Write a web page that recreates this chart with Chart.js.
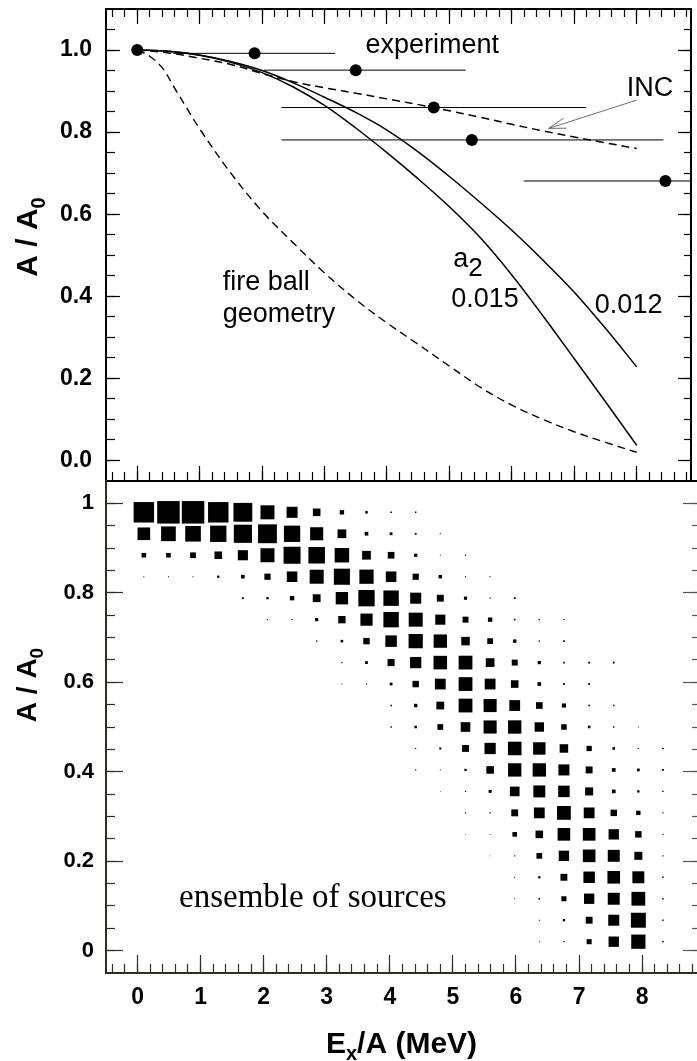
<!DOCTYPE html>
<html>
<head>
<meta charset="utf-8">
<title>A/A0 vs Ex/A</title>
<script src="https://cdn.jsdelivr.net/npm/chart.js@4.4.1/dist/chart.umd.min.js"></script>
<style>
  html, body { margin: 0; padding: 0; background: #fff; }
  #wrap { position: relative; width: 697px; height: 1061px; overflow: hidden; background: #fff; }
  canvas { position: absolute; left: 0; }
  #topChart { top: 0; }
  #bottomChart { top: 475px; }
</style>
</head>
<body>
<div id="wrap">
  <canvas id="topChart" width="697" height="495"></canvas>
  <canvas id="bottomChart" width="697" height="586"></canvas>
</div>
<script>
// ================= DATA =================
// ---- top panel: model curves ----
const curveX = [0, 0.5, 1, 1.5, 2, 2.5, 3, 3.5, 4, 4.5, 5, 5.5, 6, 6.5, 7, 7.5, 8];
const a012Y  = [1.0, 0.997, 0.988, 0.972, 0.950, 0.920, 0.885, 0.848, 0.805, 0.752, 0.692, 0.628, 0.561, 0.488, 0.410, 0.322, 0.228];
const a015Y  = [1.0, 0.997, 0.987, 0.970, 0.945, 0.910, 0.865, 0.810, 0.750, 0.686, 0.618, 0.542, 0.452, 0.352, 0.248, 0.143, 0.037];
const incY   = [1.0, 0.993, 0.980, 0.965, 0.943, 0.923, 0.908, 0.895, 0.881, 0.867, 0.852, 0.836, 0.819, 0.803, 0.788, 0.774, 0.760];
const fireX  = [0, 0.2, 0.4, 0.6, 0.8, 1, 1.5, 2, 2.5, 3, 3.5, 4, 4.5, 5, 5.5, 6, 6.5, 7, 7.5, 8];
const fireY  = [1.0, 0.985, 0.957, 0.907, 0.857, 0.808, 0.700, 0.607, 0.530, 0.457, 0.392, 0.335, 0.283, 0.230, 0.178, 0.135, 0.100, 0.070, 0.044, 0.020];
// ---- top panel: experiment ----
const expX     = [0, 1.88, 3.50, 4.75, 5.36, 8.46];
const expY     = [1.0, 0.992, 0.951, 0.860, 0.781, 0.681];
const expXLow  = [null, 0.58, 2.03, 2.31, 2.31, 6.19];
const expXHigh = [null, 3.17, 5.26, 7.19, 8.43, 10.7];

// ---- bottom panel: ensemble of sources (relative box size per cell) ----
const boxCols = [0.10, 0.49, 0.88, 1.28, 1.67, 2.06, 2.45, 2.84, 3.24, 3.63, 4.02, 4.41, 4.80, 5.20, 5.59, 5.98, 6.37, 6.76, 7.16, 7.55, 7.94, 8.33];
const boxRows = [0.980, 0.932, 0.884, 0.836, 0.788, 0.740, 0.692, 0.644, 0.596, 0.548, 0.500, 0.452, 0.404, 0.356, 0.308, 0.260, 0.212, 0.164, 0.116, 0.068, 0.020];
const boxSize = [
  [.89,.98,.98,.89,.82,.61,.48,.33,.19,.11,.07,.06,0,0,0,0,0,0,0,0,0,0],
  [.55,.64,.68,.71,.79,.82,.71,.57,.38,.16,.12,.08,.05,0,0,0,0,0,0,0,0,0],
  [.20,.20,.25,.33,.44,.61,.74,.72,.63,.38,.29,.14,.04,.05,0,0,0,0,0,0,0,0],
  [.04,.04,.04,.10,.16,.27,.46,.61,.70,.62,.46,.27,.15,.05,.05,0,0,0,0,0,0,0],
  [0,0,0,0,.08,.10,.19,.34,.54,.71,.67,.48,.30,.14,.05,.08,0,0,0,0,0,0],
  [0,0,0,0,0,.05,.05,.14,.32,.53,.67,.61,.44,.26,.19,.07,.05,.05,0,0,0,0],
  [0,0,0,0,0,0,0,.06,.11,.28,.50,.62,.58,.37,.25,.15,.06,.07,0,0,0,0],
  [0,0,0,0,0,0,0,0,.05,.12,.31,.49,.59,.60,.38,.26,.14,.07,.08,.08,0,0],
  [0,0,0,0,0,0,0,0,.04,.05,.12,.28,.47,.60,.47,.33,.16,.08,.08,0,0,0],
  [0,0,0,0,0,0,0,0,0,0,.07,.15,.34,.60,.57,.47,.29,.18,.07,.06,0,0],
  [0,0,0,0,0,0,0,0,0,0,.06,.11,.25,.42,.57,.58,.41,.24,.11,.06,.04,0],
  [0,0,0,0,0,0,0,0,0,0,0,.05,.09,.30,.49,.59,.54,.37,.23,.11,.05,.07],
  [0,0,0,0,0,0,0,0,0,0,0,.05,.04,.10,.33,.58,.58,.48,.30,.16,.12,.08],
  [0,0,0,0,0,0,0,0,0,0,0,0,.03,.05,.13,.42,.52,.50,.35,.16,.10,.06],
  [0,0,0,0,0,0,0,0,0,0,0,0,0,.05,.06,.30,.47,.60,.47,.28,.19,.05],
  [0,0,0,0,0,0,0,0,0,0,0,0,0,.03,.04,.20,.33,.55,.55,.45,.28,.05],
  [0,0,0,0,0,0,0,0,0,0,0,0,0,0,.03,.05,.25,.45,.55,.52,.35,.05],
  [0,0,0,0,0,0,0,0,0,0,0,0,0,0,0,.05,.10,.30,.50,.55,.52,.06],
  [0,0,0,0,0,0,0,0,0,0,0,0,0,0,0,.04,.07,.22,.45,.52,.60,.06],
  [0,0,0,0,0,0,0,0,0,0,0,0,0,0,0,0,.05,.10,.30,.48,.65,.06],
  [0,0,0,0,0,0,0,0,0,0,0,0,0,0,0,0,.04,.05,.22,.45,.62,.06]
];

// ---- ticks ----
const xMajorTicks  = [0, 1, 2, 3, 4, 5, 6, 7, 8];
const xMajorLabels = ['0', '1', '2', '3', '4', '5', '6', '7', '8'];
const topYMajor    = [0, 0.2, 0.4, 0.6, 0.8, 1.0];
const topYLabels   = ['0.0', '0.2', '0.4', '0.6', '0.8', '1.0'];
const botYMajor    = [0, 0.2, 0.4, 0.6, 0.8, 1.0];
const botYLabels   = ['0', '0.2', '0.4', '0.6', '0.8', '1'];
const xMinorTicks = []; for (let k = -2; k <= 44; k++) xMinorTicks.push(k / 5);
const topYMinor = []; for (let k = 0; k <= 21; k++) topYMinor.push(k / 20);
const botYMinor = []; for (let k = 0; k <= 20; k++) botYMinor.push(k / 20);

// ---- text annotations (data coordinates) ----
const topNotes = [
  { text: 'experiment', x: 3.655, y: 0.993 },
  { text: 'INC',        x: 7.84,  y: 0.887 },
  { text: 'fire ball',  x: 1.37,  y: 0.415 },
  { text: 'geometry',   x: 1.37,  y: 0.338 },
  { text: '0.015',      x: 5.03,  y: 0.375 },
  { text: '0.012',      x: 7.33,  y: 0.359 }
];
const a2Note = { main: 'a', sub: '2', x: 5.06, y: 0.471 };
const incArrow = { fromX: 8.0, fromY: 0.878, toX: 6.59, toY: 0.809 };
const bottomNote = { text: 'ensemble of sources', x: 0.658, y: 0.0975 };

// ================= RENDERING =================
const SANS = '"Liberation Sans", Arial, Helvetica, sans-serif';
const SERIF = '"Liberation Serif", "Times New Roman", serif';
Chart.defaults.font.family = SANS;
Chart.defaults.color = '#000';

const X_MIN = -0.5, X_MAX = 8.87;

function axisDef(o) {
  const hasLabels = !!o.labels;
  return {
    type: 'linear', axis: o.axis, position: o.position,
    min: o.min, max: o.max, weight: o.weight || 0,
    afterBuildTicks: s => { s.ticks = o.values.map(v => ({ value: v })); },
    afterFit: s => {
      if (o.axis === 'x') s.height = o.fit; else s.width = o.fit;
      s.paddingTop = 0; s.paddingBottom = 0; s.paddingLeft = 0; s.paddingRight = 0;
    },
    grid: { display: true, drawOnChartArea: false, drawTicks: true,
            tickLength: -o.len, tickWidth: o.tickWidth || 1.2, tickColor: o.color || '#000' },
    border: { display: !!o.border, width: o.borderWidth || 2, color: o.color || '#000' },
    ticks: hasLabels
      ? { display: true, autoSkip: false, maxRotation: 0, minRotation: 0, color: '#000',
          font: o.font, padding: o.padding, callback: (v, i) => o.labels[i] }
      : { display: false, autoSkip: false }
  };
}

function xy(xs, ys) { return xs.map((v, i) => ({ x: v, y: ys[i] })); }

// ---------- top chart ----------
const lineBase = { showLine: true, borderColor: '#000', pointRadius: 0, tension: 0.35 };
const topDatasets = [
  Object.assign({ data: xy(curveX, a012Y), borderWidth: 1.5 }, lineBase),
  Object.assign({ data: xy(curveX, a015Y), borderWidth: 1.5 }, lineBase),
  Object.assign({ data: xy(curveX, incY), borderWidth: 1.5, borderDash: [8, 5] }, lineBase),
  Object.assign({ data: xy(fireX, fireY), borderWidth: 1.4, borderDash: [8, 5] }, lineBase)
];
expX.forEach((v, i) => {
  if (expXLow[i] === null) return;
  topDatasets.push({ data: [{ x: expXLow[i], y: expY[i] }, { x: expXHigh[i], y: expY[i] }],
    showLine: true, borderColor: '#000', borderWidth: 1, pointRadius: 0 });
});
topDatasets.push({ data: xy(expX, expY), showLine: false, pointRadius: 6, pointStyle: 'circle',
  backgroundColor: '#000', borderColor: '#000', borderWidth: 0 });

function drawRotatedTitle(ctx, baseX, centerY, mainFont, subFont, subDrop) {
  ctx.save();
  ctx.fillStyle = '#000';
  ctx.font = mainFont; const w1 = ctx.measureText('A / A').width;
  ctx.font = subFont; const w2 = ctx.measureText('0').width;
  ctx.translate(baseX, centerY + (w1 + w2) / 2);
  ctx.rotate(-Math.PI / 2);
  ctx.textAlign = 'left'; ctx.textBaseline = 'alphabetic';
  ctx.font = mainFont; ctx.fillText('A / A', 0, 0);
  ctx.font = subFont; ctx.fillText('0', w1, subDrop);
  ctx.restore();
}

const topNotesPlugin = {
  id: 'topNotes',
  afterDatasetsDraw(chart) {
    const { ctx } = chart; const X = chart.scales.x, Y = chart.scales.y;
    ctx.save();
    ctx.fillStyle = '#000';
    ctx.font = '27px ' + SANS;
    ctx.textAlign = 'left'; ctx.textBaseline = 'alphabetic';
    topNotes.forEach(n => ctx.fillText(n.text, X.getPixelForValue(n.x), Y.getPixelForValue(n.y)));
    const ax = X.getPixelForValue(a2Note.x), ay = Y.getPixelForValue(a2Note.y);
    ctx.fillText(a2Note.main, ax, ay);
    const w = ctx.measureText(a2Note.main).width;
    ctx.font = '26px ' + SANS;
    ctx.fillText(a2Note.sub, ax + w, ay + 9);
    // INC arrow
    const x1 = X.getPixelForValue(incArrow.fromX), y1 = Y.getPixelForValue(incArrow.fromY);
    const x2 = X.getPixelForValue(incArrow.toX), y2 = Y.getPixelForValue(incArrow.toY);
    ctx.strokeStyle = '#6e6e6e'; ctx.lineWidth = 1;
    ctx.beginPath(); ctx.moveTo(x1, y1); ctx.lineTo(x2, y2); ctx.stroke();
    const ang = Math.atan2(y1 - y2, x1 - x2), L = 18, da = 17 * Math.PI / 180;
    ctx.beginPath();
    ctx.moveTo(x2 + L * Math.cos(ang - da), y2 + L * Math.sin(ang - da));
    ctx.lineTo(x2, y2);
    ctx.lineTo(x2 + L * Math.cos(ang + da), y2 + L * Math.sin(ang + da));
    ctx.stroke();
    ctx.restore();
  },
  afterDraw(chart) {
    drawRotatedTitle(chart.ctx, 37, 237, 'bold 30px ' + SANS, 'bold 20px ' + SANS, 8);
  }
};

new Chart(document.getElementById('topChart'), {
  type: 'scatter',
  data: { datasets: topDatasets },
  plugins: [topNotesPlugin],
  options: {
    responsive: false, animation: false, devicePixelRatio: 1, events: [],
    layout: { padding: { top: 9, left: 0, right: 0, bottom: 0 } },
    plugins: { legend: { display: false }, tooltip: { enabled: false } },
    scales: {
      x:       axisDef({ axis: 'x', position: 'bottom', min: X_MIN, max: X_MAX, values: xMajorTicks, len: 15, fit: 14, border: true, weight: 1 }),
      xMin:    axisDef({ axis: 'x', position: 'bottom', min: X_MIN, max: X_MAX, values: xMinorTicks, len: 9, fit: 0, weight: 0 }),
      xTop:    axisDef({ axis: 'x', position: 'top', min: X_MIN, max: X_MAX, values: xMajorTicks, len: 15, fit: 0, border: true, weight: 1 }),
      xTopMin: axisDef({ axis: 'x', position: 'top', min: X_MIN, max: X_MAX, values: xMinorTicks, len: 8, fit: 0, weight: 0 }),
      y:       axisDef({ axis: 'y', position: 'left', min: -0.05, max: 1.1, values: topYMajor, labels: topYLabels,
                         font: { size: 23, weight: 'bold', family: SANS }, padding: 28, len: 14, fit: 106, border: true, weight: 1 }),
      yMin:    axisDef({ axis: 'y', position: 'left', min: -0.05, max: 1.1, values: topYMinor, len: 9, fit: 0, weight: 0 }),
      yR:      axisDef({ axis: 'y', position: 'right', min: -0.05, max: 1.1, values: topYMajor, len: 13, fit: 0, border: true, weight: 1 }),
      yRMin:   axisDef({ axis: 'y', position: 'right', min: -0.05, max: 1.1, values: topYMinor, len: 7, fit: 0, weight: 0 })
    }
  }
});

// ---------- bottom chart ----------
const boxData = [];
boxRows.forEach((rv, r) => boxCols.forEach((cv, c) => {
  const s = boxSize[r][c];
  if (s > 0) boxData.push({ x: cv, y: rv, s: s });
}));
const colStep = boxCols[1] - boxCols[0];
const rowStep = boxRows[0] - boxRows[1];

const bottomPlugin = {
  id: 'bottomNotes',
  afterDatasetsDraw(chart) {
    const { ctx } = chart; const X = chart.scales.x, Y = chart.scales.y;
    ctx.save();
    ctx.fillStyle = '#000';
    ctx.font = '33px ' + SERIF;
    ctx.textAlign = 'left'; ctx.textBaseline = 'alphabetic';
    ctx.fillText(bottomNote.text, X.getPixelForValue(bottomNote.x), Y.getPixelForValue(bottomNote.y));
    ctx.restore();
  },
  afterDraw(chart) {
    const { ctx, chartArea } = chart;
    drawRotatedTitle(ctx, 36, 210, 'bold 28px ' + SANS, 'bold 19px ' + SANS, 7);
    ctx.save();
    ctx.fillStyle = '#000'; ctx.textBaseline = 'alphabetic'; ctx.textAlign = 'left';
    const mainF = 'bold 30px ' + SANS, subF = 'bold 20px ' + SANS;
    ctx.font = mainF; const wE = ctx.measureText('E').width, wR = ctx.measureText('/A (MeV)').width;
    ctx.font = subF; const wx = ctx.measureText('x').width;
    const total = wE + wx + wR;
    const x0 = (chartArea.left + chartArea.right) / 2 - total / 2;
    const base = 578;
    ctx.font = mainF; ctx.fillText('E', x0, base);
    ctx.font = subF; ctx.fillText('x', x0 + wE, base + 7);
    ctx.font = mainF; ctx.fillText('/A (MeV)', x0 + wE + wx, base);
    ctx.restore();
  }
};

const OLIVE = '#2e2e22';
new Chart(document.getElementById('bottomChart'), {
  type: 'scatter',
  data: { datasets: [{
    data: boxData,
    pointStyle: 'rect',
    backgroundColor: '#000',
    borderWidth: 0,
    pointRadius: ctx => {
      const raw = ctx.raw; if (!raw) return 0;
      const X = ctx.chart.scales.x, Y = ctx.chart.scales.y;
      const dx = Math.abs(X.getPixelForValue(colStep) - X.getPixelForValue(0));
      const dy = Math.abs(Y.getPixelForValue(rowStep) - Y.getPixelForValue(0));
      return raw.s * Math.sqrt(dx * dy) / (2 * Math.SQRT1_2);
    }
  }] },
  plugins: [bottomPlugin],
  options: {
    responsive: false, animation: false, devicePixelRatio: 1, events: [],
    layout: { padding: { top: 6, left: 0, right: 0, bottom: 0 } },
    plugins: { legend: { display: false }, tooltip: { enabled: false } },
    scales: {
      x:     axisDef({ axis: 'x', position: 'bottom', min: X_MIN, max: X_MAX, values: xMajorTicks, labels: xMajorLabels,
                       font: { size: 23, weight: 'bold', family: SANS, lineHeight: 1.2 }, padding: 29, len: 18, fit: 88, border: true, color: OLIVE, weight: 1 }),
      xMin:  axisDef({ axis: 'x', position: 'bottom', min: X_MIN, max: X_MAX, values: xMinorTicks, len: 9, fit: 0, color: OLIVE, weight: 0 }),
      xTop:  axisDef({ axis: 'x', position: 'top', min: X_MIN, max: X_MAX, values: [], len: 0, fit: 0, border: true, weight: 1 }),
      y:     axisDef({ axis: 'y', position: 'left', min: -0.05, max: 1.05, values: botYMajor, labels: botYLabels,
                       font: { size: 22, weight: 'bold', family: SANS }, padding: 29, len: 17, fit: 106, border: true, color: OLIVE, weight: 1 }),
      yMin:  axisDef({ axis: 'y', position: 'left', min: -0.05, max: 1.05, values: botYMinor, len: 9, fit: 0, color: OLIVE, weight: 0 }),
      yR:    axisDef({ axis: 'y', position: 'right', min: -0.05, max: 1.05, values: botYMajor, len: 14, fit: 0, color: '#555', weight: 1 }),
      yRMin: axisDef({ axis: 'y', position: 'right', min: -0.05, max: 1.05, values: botYMinor, len: 5, fit: 0, color: '#555', weight: 0 })
    }
  }
});
</script>
</body>
</html>
